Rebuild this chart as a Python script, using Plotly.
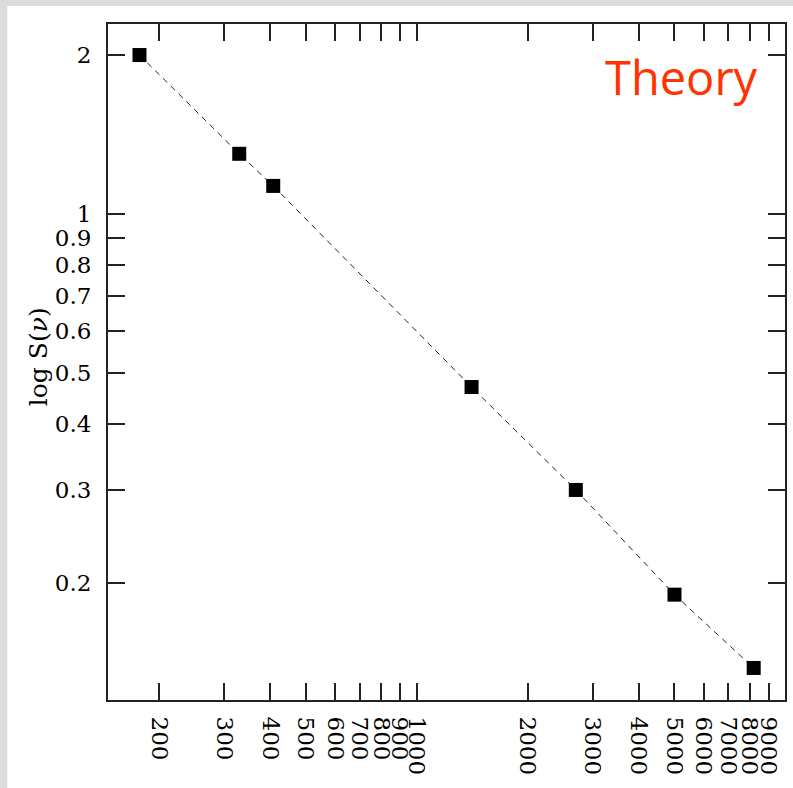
import plotly.graph_objects as go
import math

# Data
freq = [177, 330, 408, 1408, 2700, 5000, 8200]
s_nu = [2.0, 1.30, 1.13, 0.47, 0.30, 0.19, 0.138]

x_tickvals = [200, 300, 400, 500, 600, 700, 800, 900, 1000,
              2000, 3000, 4000, 5000, 6000, 7000, 8000, 9000]
x_ticktext = [str(v) for v in x_tickvals]
y_tickvals = [0.2, 0.3, 0.4, 0.5, 0.6, 0.7, 0.8, 0.9, 1, 2]
y_ticktext = ["0.2", "0.3", "0.4", "0.5", "0.6", "0.7", "0.8", "0.9", "1", "2"]

W, H = 793, 788
L, R, T, B = 108, 6, 24, 88
pw, ph = W - L - R, H - T - B

def px(xp):
    return (xp - L) / pw

def py(yp):
    return (H - B - yp) / ph

fig = go.Figure()
fig.add_trace(go.Scatter(
    x=freq, y=s_nu, mode="lines+markers",
    line=dict(color="#222222", width=1, dash="6px,5px"),
    marker=dict(symbol="square", size=14, color="black", line=dict(width=0)),
    showlegend=False,
))

serif = "DejaVu Serif, Liberation Serif, serif"
axis_common = dict(
    showgrid=False, zeroline=False, showline=True, linecolor="#222222", linewidth=2,
    mirror="ticks", ticks="inside", ticklen=17, tickwidth=1.5, tickcolor="#222222",
)

fig.update_xaxes(
    type="log", range=[math.log10(145.4), 3.9987],
    tickvals=x_tickvals, ticktext=x_ticktext, tickangle=90,
    ticklabelstandoff=10, tickfont=dict(family=serif, size=23, color="black"),
    **axis_common,
)
fig.update_yaxes(
    type="log", range=[math.log10(0.12), math.log10(2.29)],
    tickvals=y_tickvals, ticktext=y_ticktext, ticklabelstandoff=10,
    tickfont=dict(family=serif, size=23, color="black"),
    **axis_common,
)

fig.add_annotation(
    x=px(38), y=py(357), xref="paper", yref="paper",
    text="log S(<i>ν</i>)", textangle=-90, showarrow=False,
    font=dict(family=serif, size=25, color="black"),
    xanchor="center", yanchor="middle",
)
fig.add_annotation(
    x=px(762), y=py(77), xref="paper", yref="paper",
    text="Theory", showarrow=False,
    font=dict(family="Open Sans, Noto Sans, sans-serif", size=47, color="#ff3300"),
    xanchor="right", yanchor="middle",
)

# white panel on gray frame
fig.add_shape(type="rect", xref="paper", yref="paper",
              x0=px(7), x1=px(W + 5), y0=py(H + 5), y1=py(6),
              fillcolor="white", line=dict(width=0), layer="below")

fig.update_layout(
    width=W, height=H,
    margin=dict(l=L, r=R, t=T, b=B),
    paper_bgcolor="#dcdcdc", plot_bgcolor="white",
)

fig.write_html("out.html", config={"displayModeBar": False},
               post_script="document.body.style.margin='0';document.body.style.padding='0';")
